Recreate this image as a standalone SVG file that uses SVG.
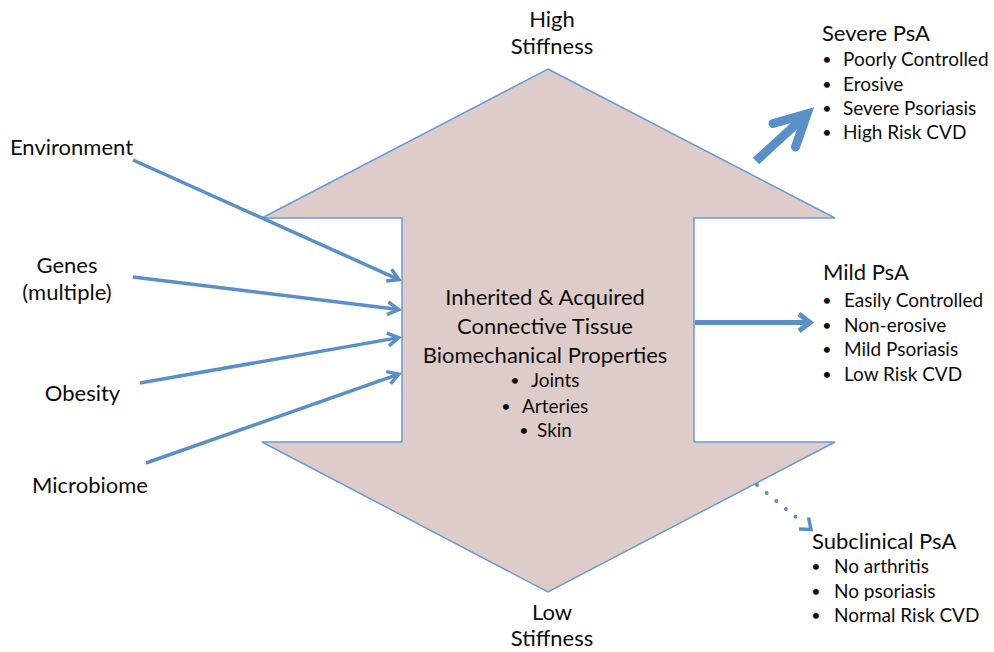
<svg xmlns="http://www.w3.org/2000/svg" width="994" height="652" viewBox="0 0 994 652">
<style>
text{font-family:Lato,"Liberation Sans",sans-serif;fill:#0d0d0d}
.lg{font-size:22px}
.md{font-size:19px}
.b{font-size:16px}
.c{text-anchor:middle}
.ln{fill:none;stroke:#5a8fc8;stroke-width:3.5}
</style>
<defs>
<marker id="ah" markerUnits="userSpaceOnUse" markerWidth="20" markerHeight="20" viewBox="-16 -10 20 20" refX="0" refY="0" orient="auto" overflow="visible">
<path d="M-11,-6.5 L0,0 L-11,6.5" fill="none" stroke="#5a8fc8" stroke-width="3.5"/>
</marker>
</defs>
<rect width="994" height="652" fill="#ffffff"/>
<g id="core">
<polygon points="548,69 835,218 694,218 694,442 835,442 548,592 262,442 402,442 402,218 262,218" fill="#decccb" stroke="#6b9bd1" stroke-width="1.5"/>
<text class="lg c" x="545" y="305">Inherited &amp; Acquired</text>
<text class="lg c" x="545" y="334">Connective Tissue</text>
<text class="lg c" x="545" y="363">Biomechanical Properties</text>
<text class="b c" x="515" y="386">•</text><text class="md" x="531" y="387">Joints</text>
<text class="b c" x="506" y="412">•</text><text class="md" x="522" y="413">Arteries</text>
<text class="b c" x="524" y="436">•</text><text class="md" x="537" y="437">Skin</text>
</g>
<g id="high"><text class="lg c" x="552" y="27">High</text><text class="lg c" x="552" y="54">Stiffness</text></g>
<g id="low"><text class="lg c" x="552" y="620">Low</text><text class="lg c" x="552" y="646">Stiffness</text></g>
<g id="environment"><text class="lg c" x="71.5" y="155">Environment</text></g>
<g id="genes"><text class="lg c" x="67" y="273">Genes</text><text class="lg c" x="67" y="300">(multiple)</text></g>
<g id="obesity"><text class="lg c" x="82.5" y="401">Obesity</text></g>
<g id="microbiome"><text class="lg c" x="90" y="493">Microbiome</text></g>
<g id="severe">
<text class="lg" x="822" y="41">Severe PsA</text>
<text class="b c" x="827" y="65">•</text><text class="md" x="843" y="66">Poorly Controlled</text>
<text class="b c" x="827" y="90">•</text><text class="md" x="843" y="91">Erosive</text>
<text class="b c" x="827" y="114">•</text><text class="md" x="843" y="115">Severe Psoriasis</text>
<text class="b c" x="827" y="138">•</text><text class="md" x="843" y="139">High Risk CVD</text>
</g>
<g id="mild">
<text class="lg" x="823" y="280">Mild PsA</text>
<text class="b c" x="827" y="306">•</text><text class="md" x="844" y="307">Easily Controlled</text>
<text class="b c" x="827" y="331">•</text><text class="md" x="844" y="332">Non-erosive</text>
<text class="b c" x="827" y="355">•</text><text class="md" x="844" y="356">Mild Psoriasis</text>
<text class="b c" x="827" y="380">•</text><text class="md" x="844" y="381">Low Risk CVD</text>
</g>
<g id="subclinical">
<text class="lg" x="812" y="549">Subclinical PsA</text>
<text class="b c" x="816" y="572">•</text><text class="md" x="834" y="573">No arthritis</text>
<text class="b c" x="816" y="597">•</text><text class="md" x="834" y="598">No psoriasis</text>
<text class="b c" x="816" y="621">•</text><text class="md" x="834" y="622">Normal Risk CVD</text>
</g>
<g id="connectors">
<line class="ln" x1="133" y1="160" x2="398.9" y2="279.6" marker-end="url(#ah)"/>
<line class="ln" x1="133" y1="277" x2="398.6" y2="309.6" marker-end="url(#ah)"/>
<line class="ln" x1="140" y1="383" x2="398.7" y2="337.6" marker-end="url(#ah)"/>
<line class="ln" x1="146" y1="463" x2="398.8" y2="374.1" marker-end="url(#ah)"/>
<path d="M756,161 L805,116" fill="none" stroke="#5a8fc8" stroke-width="9"/>
<path d="M773,123.5 L807,114 L795.5,147" fill="none" stroke="#5a8fc8" stroke-width="9" stroke-linecap="round" stroke-linejoin="miter" stroke-miterlimit="10"/>
<path d="M695,322.5 L808,322.5" fill="none" stroke="#5a8fc8" stroke-width="5"/>
<path d="M799,314 L810,322.5 L799,331" fill="none" stroke="#5a8fc8" stroke-width="5" stroke-linejoin="miter"/>
<path d="M757,485 L803,523" fill="none" stroke="#5a8fc8" stroke-width="4" stroke-linecap="round" stroke-dasharray="0 12.5"/>
<path d="M799,529 L811,529.5 L808.5,517.5" fill="none" stroke="#5a8fc8" stroke-width="3.5" stroke-linejoin="miter"/>
</g>
</svg>
